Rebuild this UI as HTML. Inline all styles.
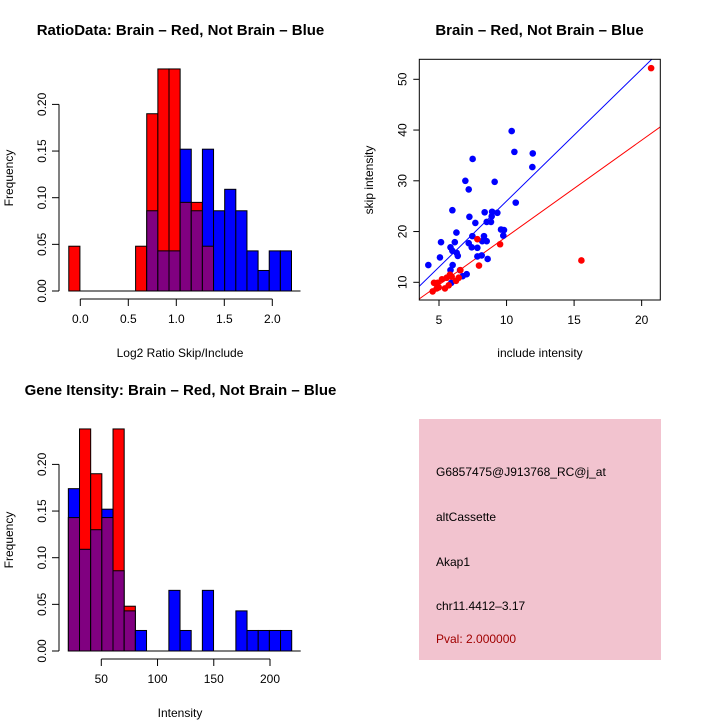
<!DOCTYPE html>
<html><head><meta charset="utf-8"><style>
body{margin:0;background:#fff}
svg text{font-family:"Liberation Sans",sans-serif;fill:#000}
</style></head><body>
<svg id="s" width="720" height="720" viewBox="0 0 720 720" xmlns="http://www.w3.org/2000/svg">
<rect width="720" height="720" fill="#fff"/>
<text x="180.5" y="35" font-size="15" font-weight="bold" text-anchor="middle">RatioData: Brain – Red, Not Brain – Blue</text>
<text x="539.5" y="35" font-size="15" font-weight="bold" text-anchor="middle">Brain – Red, Not Brain – Blue</text>
<text x="180.5" y="395" font-size="15" font-weight="bold" text-anchor="middle">Gene Itensity: Brain – Red, Not Brain – Blue</text>
<text x="180" y="357" font-size="12" text-anchor="middle">Log2 Ratio Skip/Include</text>
<text transform="translate(13,178) rotate(-90)" font-size="12" text-anchor="middle">Frequency</text>
<text x="540" y="357" font-size="12" text-anchor="middle">include intensity</text>
<text transform="translate(373,180) rotate(-90)" font-size="12" text-anchor="middle">skip intensity</text>
<text x="180" y="717" font-size="12" text-anchor="middle">Intensity</text>
<text transform="translate(13,540) rotate(-90)" font-size="12" text-anchor="middle">Frequency</text>
<g>
<rect x="419" y="419" width="242" height="241" fill="#f2c3cf"/>
<text x="436" y="476" font-size="12">G6857475@J913768_RC@j_at</text>
<text x="436" y="521" font-size="12">altCassette</text>
<text x="436" y="566" font-size="12">Akap1</text>
<text x="436" y="610" font-size="12">chr11.4412–3.17</text>
<text x="436" y="643" font-size="12" style="fill:#a00000">Pval: 2.000000</text>
</g>
<g id="g1"></g>
<g id="g2"></g>
<g id="g3"></g>
</svg>
<script>
const ratioRed=[0.048,0,0,0,0,0,0.048,0.19,0.238,0.238,0.095,0.095,0.048,0,0,0,0,0,0,0];
const ratioBlue=[0,0,0,0,0,0,0,0.086,0.043,0.043,0.152,0.086,0.152,0.086,0.109,0.086,0.043,0.022,0.043,0.043];
const ratioXTicks=["0.0","0.5","1.0","1.5","2.0"];
const freqYTicks=["0.00","0.05","0.10","0.15","0.20"];
const intRed=[0.143,0.238,0.19,0.143,0.238,0.048,0,0,0,0,0,0,0,0,0,0,0,0,0,0];
const intBlue=[0.174,0.109,0.13,0.152,0.086,0.043,0.022,0,0,0.065,0.022,0,0.065,0,0,0.043,0.022,0.022,0.022,0.022];
const intXTicks=["50","100","150","200"];
const blueX=[4.21,5.15,5.07,5.99,6.95,7.2,7.49,7.25,7.69,6.29,6.17,5.85,5.99,6.31,6.39,6.01,5.85,6.56,6.75,7.05,5.91,7.47,7.2,7.42,7.84,7.84,8.16,8.2,8.33,8.53,8.6,8.38,8.53,8.85,8.9,8.93,9.32,9.12,9.59,9.81,9.76,10.38,10.58,10.68,11.94,11.91];
const blueY=[13.4,17.9,14.9,24.2,30.0,28.3,34.3,22.9,21.7,19.8,17.9,16.9,16.2,15.8,15.2,13.4,12.4,12.4,11.2,11.6,9.9,19.1,17.7,16.9,16.8,15.1,15.3,18.1,19.1,18.1,14.6,23.8,21.9,21.9,23.0,23.9,23.7,29.8,20.4,20.3,19.2,39.8,35.7,25.7,35.4,32.7];
const redX=[4.53,4.63,4.9,4.98,4.83,5.22,5.44,5.57,5.72,5.81,5.94,6.26,6.46,6.58,7.84,7.96,9.52,15.54,20.7];
const redY=[8.2,9.9,9.9,9.0,8.8,10.6,8.8,10.9,9.4,11.5,11.1,10.3,10.9,12.4,18.5,13.3,17.5,14.3,52.2];
const scatXTicks=["5","10","15","20"];
const scatYTicks=["10","20","30","40","50"];
const blueSlope=2.6, redSlope=1.9;
const NS="http://www.w3.org/2000/svg";
function mk(p,t,a){const e=document.createElementNS(NS,t);for(const k in a)e.setAttribute(k,a[k]);p.appendChild(e);return e;}
function hist(g,red,blue,x0,bw,sx,fy,y0,xTicks,xAxisY,yAxisX){
  for(let i=0;i<red.length;i++){
    const xa=sx(x0+i*bw),xb=sx(x0+(i+1)*bw);
    const r=red[i],b=blue[i];const hi=Math.max(r,b),lo=Math.min(r,b);
    if(hi>0){const el=mk(g,'rect',{x:xa,y:fy(hi),width:xb-xa,height:fy(0)-fy(hi),fill:r>b?'#ff0000':'#0000ff',stroke:'#000','stroke-width':1});
      
      }
    if(lo>0){const el=mk(g,'rect',{x:xa,y:fy(lo),width:xb-xa,height:fy(0)-fy(lo),fill:'#800080',stroke:'#000','stroke-width':1});
      
      }
  }
  mk(g,'line',{x1:sx(x0)-0,x2:sx(x0+red.length*bw)+9,y1:fy(0),y2:fy(0),stroke:'#000'});
  const xv=xTicks.map(Number);
  mk(g,'line',{x1:sx(xv[0]),x2:sx(xv[xv.length-1]),y1:xAxisY,y2:xAxisY,stroke:'#000'});
  xTicks.forEach(t=>{const x=sx(+t);mk(g,'line',{x1:x,x2:x,y1:xAxisY,y2:xAxisY+7,stroke:'#000'});
    const tx=mk(g,'text',{x:x,y:xAxisY+24,'font-size':12,'text-anchor':'middle'});tx.textContent=t;
    
    });
  const yv=freqYTicks.map(Number);
  mk(g,'line',{x1:yAxisX,x2:yAxisX,y1:fy(yv[0]),y2:fy(yv[yv.length-1]),stroke:'#000'});
  freqYTicks.forEach(t=>{const y=fy(+t);mk(g,'line',{x1:yAxisX-7,x2:yAxisX,y1:y,y2:y,stroke:'#000'});
    const tx=mk(g,'text',{transform:`translate(${yAxisX-13},${y}) rotate(-90)`,'font-size':12,'text-anchor':'middle'});tx.textContent=t;
    
    });
}
hist(document.getElementById('g1'),ratioRed,ratioBlue,-0.12,0.116,v=>80.3+v*96,v=>291-v*933,0,ratioXTicks,299,59);
hist(document.getElementById('g3'),intRed,intBlue,20.7,9.93,v=>101.3+(v-50)*1.1247,v=>651-v*933,0,intXTicks,659,59);
(function(){
  const g=document.getElementById('g2');
  const sx=v=>439+(v-5)*13.51, sy=v=>282.3-(v-10)*5.075;
  const L=419.3,R=660.3,T=59.3,B=300;
  const cp=mk(g,'clipPath',{id:'cp'});mk(cp,'rect',{x:L,y:T,width:R-L,height:B-T});
  const xmin=(L-439)/13.51+5,xmax=(R-439)/13.51+5;
  const lb=mk(g,'line',{x1:sx(xmin),y1:sy(blueSlope*xmin),x2:sx(xmax),y2:sy(blueSlope*xmax),stroke:'#0000ff','clip-path':'url(#cp)'});
  
  
  const lr=mk(g,'line',{x1:sx(xmin),y1:sy(redSlope*xmin),x2:sx(xmax),y2:sy(redSlope*xmax),stroke:'#ff0000','clip-path':'url(#cp)'});
  
  
  blueX.forEach((x,i)=>{const c=mk(g,'circle',{cx:sx(x),cy:sy(blueY[i]),r:3.3,fill:'#0000ff'});
    
    });
  redX.forEach((x,i)=>{const c=mk(g,'circle',{cx:sx(x),cy:sy(redY[i]),r:3.3,fill:'#ff0000'});
    
    });
  const box=mk(g,'rect',{x:L,y:T,width:R-L,height:B-T,fill:'none',stroke:'#000'});
  
  
  scatXTicks.forEach(t=>{const x=sx(+t);mk(g,'line',{x1:x,x2:x,y1:B,y2:B+6,stroke:'#000'});
    const tx=mk(g,'text',{x:x,y:B+24,'font-size':12,'text-anchor':'middle'});tx.textContent=t;
    
    });
  scatYTicks.forEach(t=>{const y=sy(+t);mk(g,'line',{x1:L-6,x2:L,y1:y,y2:y,stroke:'#000'});
    const tx=mk(g,'text',{transform:`translate(${L-13},${y}) rotate(-90)`,'font-size':12,'text-anchor':'middle'});tx.textContent=t;
    
    });
})();
</script>
</body></html>
